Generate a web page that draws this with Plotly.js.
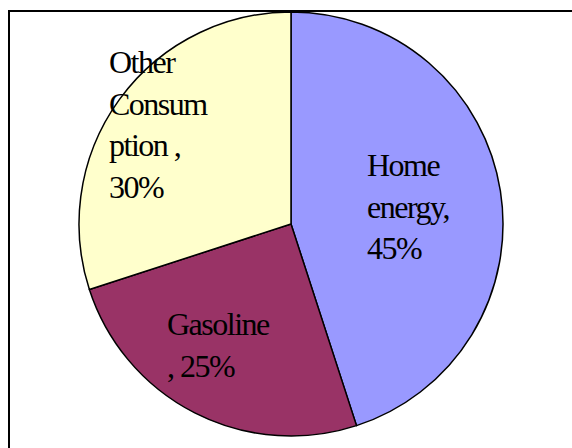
<!DOCTYPE html>
<html>
<head>
<meta charset="utf-8">
<script src="https://cdn.plot.ly/plotly-3.0.1.min.js"></script>
<style>
html,body{margin:0;padding:0;background:#fff;}
#chart{width:572px;height:448px;}
#chart .annotation-text{letter-spacing:-1.5px;font-family:"Liberation Serif","Times New Roman",serif !important;}
</style>
</head>
<body>
<div id="chart"></div>
<script>
// Data
var categories = ["Home energy", "Gasoline", "Other Consumption"];
var shares = [45, 25, 30];
var sliceColors = ["#9999FF", "#993366", "#FFFFCC"];
// Wrapped label lines as they appear in the chart
var labelLines = [
  ["Home", "energy,", "45%"],
  ["Gasoline", ", 25%"],
  ["Other", "Consum", "ption ,", "30%"]
];
// Label anchor positions (pixels from top-left)
var labelPos = [[365, 145], [165, 304], [107, 42]];

var W = 572, H = 448;
var cx = 291, cy = 224, r = 212;

var trace = {
  type: "pie",
  labels: categories,
  values: shares,
  sort: false,
  direction: "clockwise",
  rotation: 0,
  textinfo: "none",
  hoverinfo: "none",
  marker: {colors: sliceColors, line: {color: "#000", width: 1.5}},
  domain: {x: [(cx - r) / W, (cx + r) / W], y: [(H - cy - r) / H, (H - cy + r) / H]}
};

var annotations = labelLines.map(function (lines, i) {
  return {
    xref: "paper", yref: "paper",
    x: labelPos[i][0] / W, y: 1 - labelPos[i][1] / H,
    xanchor: "left", yanchor: "top", align: "left",
    showarrow: false,
    text: lines.join("<br>"),
    font: {family: "'Liberation Serif', 'Times New Roman', serif", size: 32, color: "#000"}
  };
});

var layout = {
  width: W, height: H,
  margin: {l: 0, r: 0, t: 0, b: 0},
  paper_bgcolor: "#fff",
  showlegend: false,
  annotations: annotations,
  shapes: [{
    type: "rect", xref: "paper", yref: "paper",
    x0: 9 / W, x1: 1.05, y0: -0.05, y1: 1 - 11 / H,
    line: {color: "#000", width: 2}
  }]
};

Plotly.newPlot("chart", [trace], layout, {displayModeBar: false, staticPlot: true});
</script>
</body>
</html>
